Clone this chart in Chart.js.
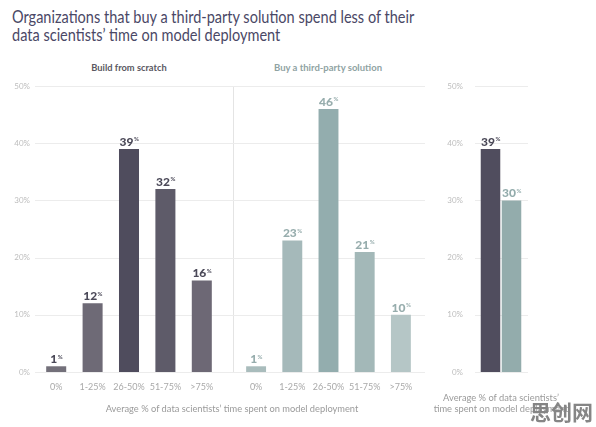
<!DOCTYPE html>
<html>
<head>
<meta charset="utf-8">
<script src="https://cdn.jsdelivr.net/npm/chart.js@4.4.0/dist/chart.umd.min.js"></script>
<style>
  html, body { margin: 0; padding: 0; background: #fff; }
  body { width: 596px; height: 427px; position: relative; overflow: hidden; font-family: Lato, sans-serif; }
  canvas { position: absolute; left: 0; top: 0; }
  .txt { position: absolute; white-space: nowrap; }
  #title { left: 12px; top: 8px; font-size: 17.5px; line-height: 18px; color: #4a4866; transform: scaleX(0.83); transform-origin: left top; }
  .panel { top: 62px; font-weight: bold; transform: translateX(-50%); }
  .axis { font-size: 9.3px; color: #9a9a9a; text-align: center; transform: translateX(-50%); line-height: 11px; }
  #mark { left: 530px; top: 396px; font-family: "Noto Sans CJK SC"; font-weight: bold; font-size: 21px; color: #858585; }
</style>
</head>
<body>
<div id="title" class="txt">Organizations that buy a third-party solution spend less of their<br>data scientists’ time on model deployment</div>
<div class="txt panel" style="left:129px; font-size:9.3px; color:#5a5862;">Build from scratch</div>
<div class="txt panel" style="left:328px; font-size:9.5px; color:#8fa3a3;">Buy a third-party solution</div>

<canvas id="buildChart" width="596" height="427"></canvas>
<canvas id="buyChart" width="596" height="427"></canvas>
<canvas id="avgChart" width="596" height="427"></canvas>

<div class="txt axis" style="left:232px; top:403px;">Average % of data scientists’ time spent on model deployment</div>
<div class="txt axis" style="left:501px; top:392px;">Average % of data scientists’<br>time spent on model deployment</div>
<div id="mark" class="txt">思创网</div>

<script>
// data
const timeBuckets = ['0%', '1-25%', '26-50%', '51-75%', '>75%'];
const buildValues = [1, 12, 39, 32, 16];
const buyValues = [1, 23, 46, 21, 10];
const approaches = ['Build from scratch', 'Buy a third-party solution'];
const averageValues = [39, 30];
const yTickValues = [0, 10, 20, 30, 40, 50];

// colours
const buildColors = ['#73707a', '#6e6a76', '#4f4c5d', '#5e5b69', '#6d6875'];
const buyColors = ['#a9bcbc', '#a5b9ba', '#93adae', '#a3b8b8', '#b5c6c6'];
const averageColors = ['#504d5e', '#93acac'];
const gridColor = '#ececec';

// horizontal grid lines drawn wider than the plot area, plus optional divider
const extendedGrid = {
    id: 'extendedGrid',
    beforeDatasetsDraw(chart, args, opts) {
        const y = chart.scales.y;
        const ctx = chart.ctx;
        ctx.save();
        ctx.strokeStyle = gridColor;
        ctx.lineWidth = 1;
        yTickValues.forEach(v => {
            const py = Math.round(y.getPixelForValue(v)) + 0.5;
            ctx.beginPath();
            ctx.moveTo(opts.left, py);
            ctx.lineTo(opts.right, py);
            ctx.stroke();
        });
        if (opts.divider) {
            ctx.strokeStyle = '#e4e4e4';
            ctx.beginPath();
            ctx.moveTo(opts.divider + 0.5, y.getPixelForValue(50));
            ctx.lineTo(opts.divider + 0.5, y.getPixelForValue(0));
            ctx.stroke();
        }
        ctx.restore();
    }
};

// value labels with a small raised percent sign
const barLabels = {
    id: 'barLabels',
    afterDatasetsDraw(chart, args, opts) {
        const ctx = chart.ctx;
        chart.data.datasets.forEach((ds, di) => {
            chart.getDatasetMeta(di).data.forEach((bar, i) => {
                const num = String(ds.data[i]);
                ctx.save();
                ctx.font = '900 12px Lato';
                const w1 = ctx.measureText(num).width;
                ctx.font = 'bold 6px Lato';
                const w2 = ctx.measureText('%').width;
                const x0 = bar.x - (w1 + w2) / 2;
                const base = bar.y - 3;
                ctx.fillStyle = Array.isArray(opts.color) ? opts.color[i] : opts.color;
                ctx.textBaseline = 'alphabetic';
                ctx.textAlign = 'left';
                ctx.font = '900 12px Lato';
                ctx.fillText(num, x0, base);
                ctx.font = 'bold 6px Lato';
                ctx.fillText('%', x0 + w1 + 0.5, base - 4.5);
                ctx.restore();
            });
        });
    }
};

const yScale = (show, padding, width) => ({
    display: show,
    min: 0,
    max: 50,
    grid: { display: false, drawTicks: false },
    border: { display: false },
    ticks: {
        stepSize: 10,
        color: '#bdbdbd',
        font: { family: 'Lato', size: 8 },
        padding: padding,
        callback: v => v + '%'
    },
    afterFit: s => { s.width = show ? width : 0; }
});

const xScale = {
    grid: { display: false, drawTicks: false },
    border: { display: false },
    ticks: { color: '#a9a9a9', font: { family: 'Lato', size: 9 }, padding: 10, maxRotation: 0, autoSkip: false },
    afterFit: s => { s.height = 30; }
};

function panelChart(id, values, colors, padLeft, padRight, showY, gridOpts, labelColor) {
    new Chart(document.getElementById(id), {
        type: 'bar',
        data: {
            labels: timeBuckets,
            datasets: [{
                data: values,
                backgroundColor: colors,
                categoryPercentage: 1,
                barPercentage: 0.55
            }]
        },
        options: {
            responsive: false,
            animation: false,
            layout: { padding: { left: padLeft, right: padRight, top: 86, bottom: 25 } },
            plugins: {
                legend: { display: false },
                tooltip: { enabled: false },
                extendedGrid: gridOpts,
                barLabels: { color: labelColor }
            },
            scales: { x: xScale, y: yScale(showY, 8, 26) }
        },
        plugins: [extendedGrid, barLabels]
    });
}

panelChart('buildChart', buildValues, buildColors, 12, 376, true,
    { left: 35, right: 233, divider: 233 }, '#4b4958');
panelChart('buyChart', buyValues, buyColors, 238, 177, false,
    { left: 233, right: 425 }, '#97adad');

new Chart(document.getElementById('avgChart'), {
    type: 'bar',
    data: {
        labels: approaches,
        datasets: [{
            data: averageValues,
            backgroundColor: averageColors,
            categoryPercentage: 1,
            barPercentage: 0.93
        }]
    },
    options: {
        responsive: false,
        animation: false,
        layout: { padding: { left: 440, right: 74, top: 86, bottom: 55 } },
        plugins: {
            legend: { display: false },
            tooltip: { enabled: false },
            extendedGrid: { left: 475, right: 528 },
            barLabels: { color: ['#4b4958', '#93acac'] }
        },
        scales: {
            x: { display: false },
            y: yScale(true, 17, 40)
        }
    },
    plugins: [extendedGrid, barLabels]
});
</script>
</body>
</html>
